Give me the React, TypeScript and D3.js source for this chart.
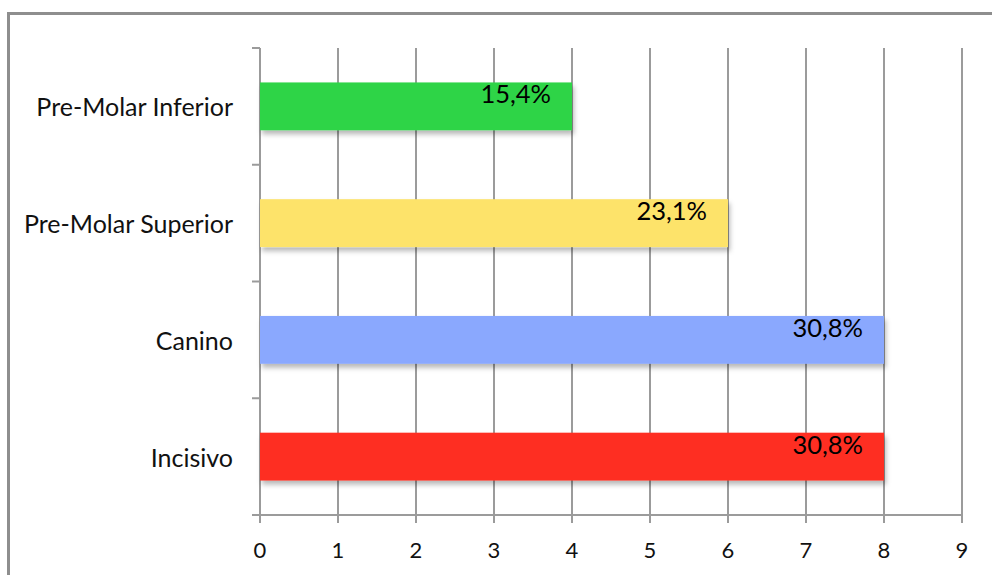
import React from "react";
import * as d3 from "d3";

const categories = ["Pre-Molar Inferior", "Pre-Molar Superior", "Canino", "Incisivo"];
const values = [4, 6, 8, 8];
const valueLabels = ["15,4%", "23,1%", "30,8%", "30,8%"];
const barColors = ["#2fd446", "#fde36b", "#8aa8fe", "#fe2f22"];
const xTicks = [0, 1, 2, 3, 4, 5, 6, 7, 8, 9];

const W = 992;
const H = 575;
const left = 260;
const right = 962;
const top = 48;
const bottom = 515;
const FONT = "Lato, 'Open Sans', sans-serif";

export default function App() {
  const x = d3.scaleLinear().domain([0, 9]).range([left, right]);
  const y = d3.scaleBand<string>().domain(categories).range([top, bottom]).paddingInner(0.59).paddingOuter(0.295);
  const bandStep = (bottom - top) / categories.length;
  const grid = "#9b9b9b";
  return (
    <svg width={W} height={H} style={{ position: "absolute", left: 0, top: 0, background: "#fff" }}>
      <defs>
        <filter id="sh" x="-5%" y="-30%" width="115%" height="180%">
          <feDropShadow dx="2" dy="4" stdDeviation="2.5" floodColor="#000" floodOpacity="0.28" />
        </filter>
      </defs>
      <rect x={8.5} y={13.5} width={1100} height={700} fill="#fff" stroke="#8e8e8e" strokeWidth={3} />
      {xTicks.filter((t) => t > 0).map((t) => (
        <line key={"g" + t} x1={x(t)} x2={x(t)} y1={top} y2={bottom + 8} stroke={grid} strokeWidth={2} />
      ))}
      <line x1={left} x2={left} y1={top} y2={bottom + 8} stroke={grid} strokeWidth={2} />
      {d3.range(categories.length + 1).map((i) => (
        <line key={"yt" + i} x1={left - 8} x2={left} y1={top + i * bandStep} y2={top + i * bandStep} stroke={grid} strokeWidth={2} />
      ))}
      <line x1={left - 8} x2={right} y1={bottom} y2={bottom} stroke={grid} strokeWidth={2} />
      {xTicks.map((t) => (
        <text key={"xl" + t} x={x(t)} y={558} textAnchor="middle" fontFamily={FONT} fontSize={22} fill="#111">
          {t}
        </text>
      ))}
      {categories.map((c) => (
        <text key={"cl" + c} x={233} y={(y(c) as number) + y.bandwidth() / 2 + 10} textAnchor="end" fontFamily={FONT} fontSize={25} fill="#111">
          {c}
        </text>
      ))}
      {categories.map((c, i) => (
        <rect key={"b" + c} x={x(0)} y={y(c)} width={x(values[i]) - x(0)} height={y.bandwidth()} fill={barColors[i]} filter="url(#sh)" />
      ))}
      {categories.map((c, i) => (
        <text key={"vl" + c} x={x(values[i]) - 21} y={(y(c) as number) + 21} textAnchor="end" fontFamily={FONT} fontSize={25.5} fill="#000">
          {valueLabels[i]}
        </text>
      ))}
    </svg>
  );
}
